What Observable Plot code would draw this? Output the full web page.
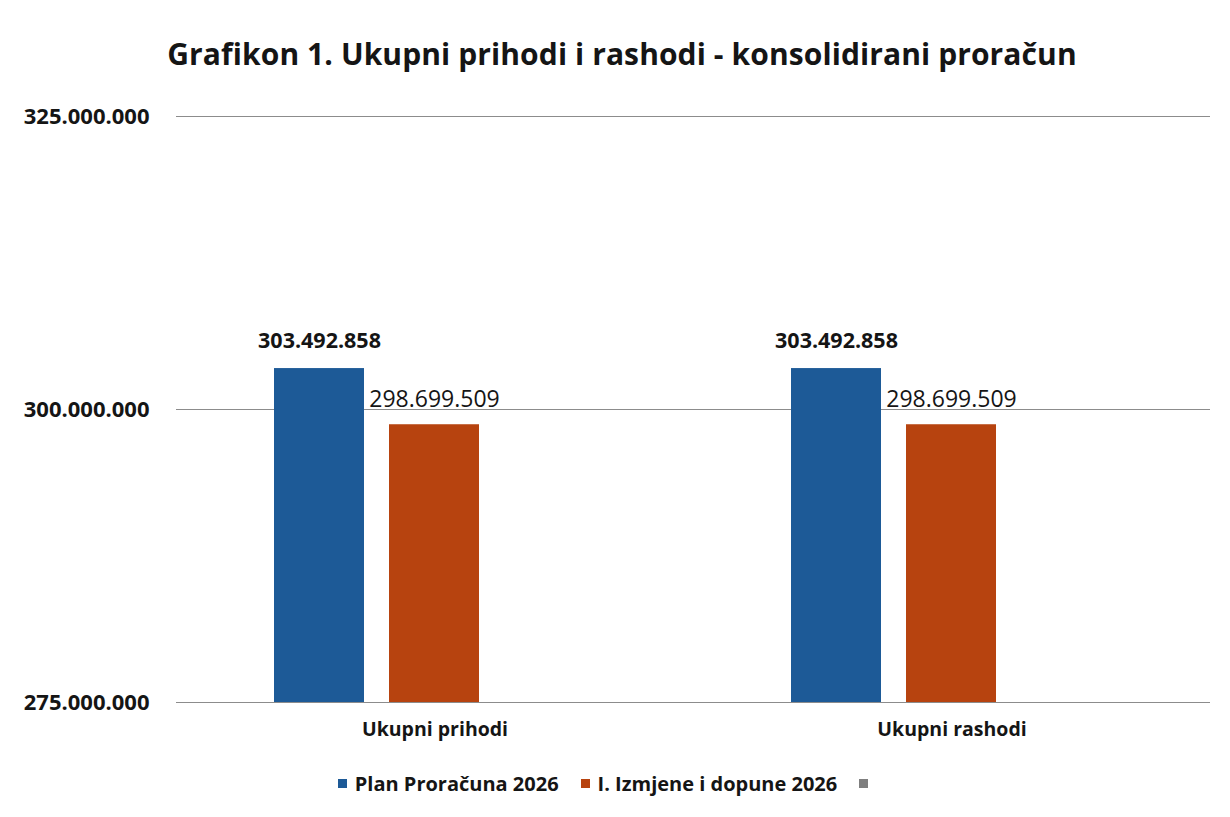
<!DOCTYPE html>
<html>
<head>
<meta charset="utf-8">
<script src="https://cdn.jsdelivr.net/npm/d3@7"></script>
<script src="https://cdn.jsdelivr.net/npm/@observablehq/plot@0.6"></script>
<style>
  body { margin: 0; background: #fff; font-family: "Open Sans", sans-serif; color: #151515; }
  #wrap { width: 1230px; height: 817px; position: relative; overflow: hidden; }
  #title { height: 90px; box-sizing: border-box; padding-top: 35px; text-align: center; font-size: 30px; font-weight: 700; line-height: 38px; padding-left: 14px; letter-spacing: 0.1px; }
  #legend { display: flex; justify-content: center; align-items: center; gap: 0; font-size: 20px; font-weight: 700; margin-top: 8px; padding-left: 6px; }
  .item { display: flex; align-items: center; margin-right: 22px; }
  .sw { width: 9px; height: 9px; margin-right: 8px; }
</style>
</head>
<body>
<div id="wrap">
  <div id="title"></div>
  <div id="chart"></div>
  <div id="legend"></div>
</div>
<script>
const titleText = "Grafikon 1. Ukupni prihodi i rashodi - konsolidirani proračun";
const categories = ["Ukupni prihodi", "Ukupni rashodi"];
const series = ["Plan Proračuna 2026", "I. Izmjene i dopune 2026", ""];
const planValues = [303492858, 303492858];
const izmjeneValues = [298699509, 298699509];
const yTicks = [275000000, 300000000, 325000000];
const colors = ["#1d5a97", "#b7430f", "#7f7f7f"];

const fmt = v => d3.format(",")(v).replace(/,/g, ".");

const data = categories.flatMap((c, i) => [
  {cat: c, series: series[0], value: planValues[i]},
  {cat: c, series: series[1], value: izmjeneValues[i]}
]);

document.getElementById("title").textContent = titleText;

const chart = Plot.plot({
  width: 1230,
  height: 672,
  marginTop: 26,
  marginLeft: 175,
  marginRight: 20,
  marginBottom: 60,
  style: {fontFamily: "Open Sans, sans-serif", color: "#151515", background: "#fff"},
  fx: {domain: categories, padding: 0, label: null},
  x: {domain: series, paddingInner: 0.217, paddingOuter: 0.848, axis: null},
  y: {domain: [yTicks[0], yTicks[yTicks.length - 1]], label: null},
  color: {domain: series, range: colors},
  marks: [
    Plot.gridY(yTicks, {stroke: "#8c8c8c", strokeOpacity: 1, strokeWidth: 1.2}),
    Plot.axisY({ticks: yTicks, tickFormat: fmt, tickSize: 0, tickPadding: 27, fontSize: 22, fontWeight: 700, label: null}),
    Plot.axisFx({anchor: "bottom", tickSize: 0, tickPadding: 20, fontSize: 19.5, fontWeight: 700, label: null}),
    Plot.barY(data, {fx: "cat", x: "series", y1: yTicks[0], y2: "value", fill: "series"}),
    Plot.text(data.filter(d => d.series === series[0]), {fx: "cat", x: "series", y: "value", text: d => fmt(d.value), dy: -27, fontSize: 21.5, fontWeight: 700, fill: "#151515"}),
    Plot.text(data.filter(d => d.series === series[1]), {fx: "cat", x: "series", y: "value", text: d => fmt(d.value), dy: -25, fontSize: 23, fontWeight: 400, fill: "#151515"})
  ]
});
document.getElementById("chart").appendChild(chart);

const legend = document.getElementById("legend");
series.forEach((s, i) => {
  const item = document.createElement("div");
  item.className = "item";
  const sw = document.createElement("div");
  sw.className = "sw";
  sw.style.background = colors[i];
  item.appendChild(sw);
  const t = document.createElement("span");
  t.textContent = s;
  item.appendChild(t);
  legend.appendChild(item);
});
</script>
</body>
</html>
